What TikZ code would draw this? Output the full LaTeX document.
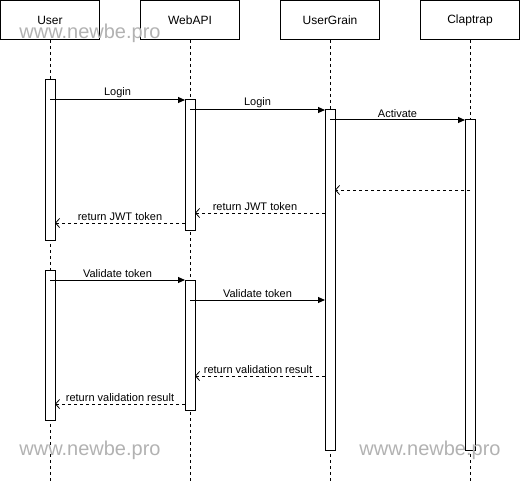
\documentclass[tikz,border=0pt]{standalone}
\usepackage{fontspec}
\setmainfont{Liberation Sans}
\usetikzlibrary{arrows.meta}
\definecolor{wm}{RGB}{178,178,178}
\tikzset{
  head/.style={draw, line width=1pt, fill=white, minimum width=99pt, minimum height=39pt, inner sep=0pt, font=\fontsize{12}{14}\selectfont},
  life/.style={line width=1pt, dash pattern=on 3pt off 3pt},
  actbox/.style={draw, line width=1pt, fill=white, minimum width=10pt, inner sep=0pt},
  msg/.style={line width=1pt, -{Triangle[length=7pt,width=6pt]}},
  ret/.style={line width=1pt, dash pattern=on 3pt off 3pt, -{Straight Barb[length=4pt,width=9pt,line width=0.8pt]}},
  lbl/.style={font=\fontsize{11}{13}\selectfont, inner sep=1pt, above=1pt},
  water/.style={text=wm, font=\fontsize{20}{22}\selectfont, inner sep=0pt}
}
\begin{document}
\begin{tikzpicture}[x=1pt,y=-1pt]
\useasboundingbox (0,0) rectangle (521,481);
% headers
\node[head] (user) at (50,20) {User};
\node[head] (web) at (190,20) {WebAPI};
\node[head] (grain) at (330,20) {UserGrain};
\node[head] (clap) at (470,20) {Claptrap};
% lifeline ends
\coordinate (userend) at (50,481);
\coordinate (webend) at (190,481);
\coordinate (grainend) at (330,481);
\coordinate (clapend) at (470,481);
\draw[life] (user.south) -- (userend);
\draw[life] (web.south) -- (webend);
\draw[life] (grain.south) -- (grainend);
\draw[life] (clap.south) -- (clapend);
% activations
\node[actbox, minimum height=160pt] (ua1) at (50,160) {};
\node[actbox, minimum height=150pt] (ua2) at (50,345) {};
\node[actbox, minimum height=130pt] (wa1) at (190,165) {};
\node[actbox, minimum height=130pt] (wa2) at (190,345) {};
\node[actbox, minimum height=340pt] (ga) at (330,280) {};
\node[actbox, minimum height=330pt] (ca) at (470,285) {};
% message endpoints
\coordinate (m1a) at (50,100);  \coordinate (m1b) at (185,100);
\coordinate (m2a) at (190,110); \coordinate (m2b) at (325,110);
\coordinate (m3a) at (330,120); \coordinate (m3b) at (465,120);
\coordinate (r1a) at (470,190); \coordinate (r1b) at (335,190);
\coordinate (r2a) at (325,213); \coordinate (r2b) at (195,213);
\coordinate (r3a) at (185,223); \coordinate (r3b) at (55,223);
\coordinate (m4a) at (50,280);  \coordinate (m4b) at (185,280);
\coordinate (m5a) at (190,300); \coordinate (m5b) at (325,300);
\coordinate (r4a) at (325,376); \coordinate (r4b) at (195,376);
\coordinate (r5a) at (185,404); \coordinate (r5b) at (55,404);
% messages
\draw[msg] (m1a) -- node[lbl] {Login} (m1b);
\draw[msg] (m2a) -- node[lbl] {Login} (m2b);
\draw[msg] (m3a) -- node[lbl] {Activate} (m3b);
\draw[ret] (r1a) -- (r1b);
\draw[ret] (r2a) -- node[lbl, xshift=-5pt] {return JWT token} (r2b);
\draw[ret] (r3a) -- node[lbl] {return JWT token} (r3b);
\draw[msg] (m4a) -- node[lbl] {Validate token} (m4b);
\draw[msg] (m5a) -- node[lbl] {Validate token} (m5b);
\draw[ret] (r4a) -- node[lbl, xshift=-2pt] {return validation result} (r4b);
\draw[ret] (r5a) -- node[lbl] {return validation result} (r5b);
% watermarks
\node[water] (wm1) at (90,33) {www.newbe.pro};
\node[water] (wm2) at (90,450) {www.newbe.pro};
\node[water] (wm3) at (430,450) {www.newbe.pro};
\end{tikzpicture}
\end{document}
